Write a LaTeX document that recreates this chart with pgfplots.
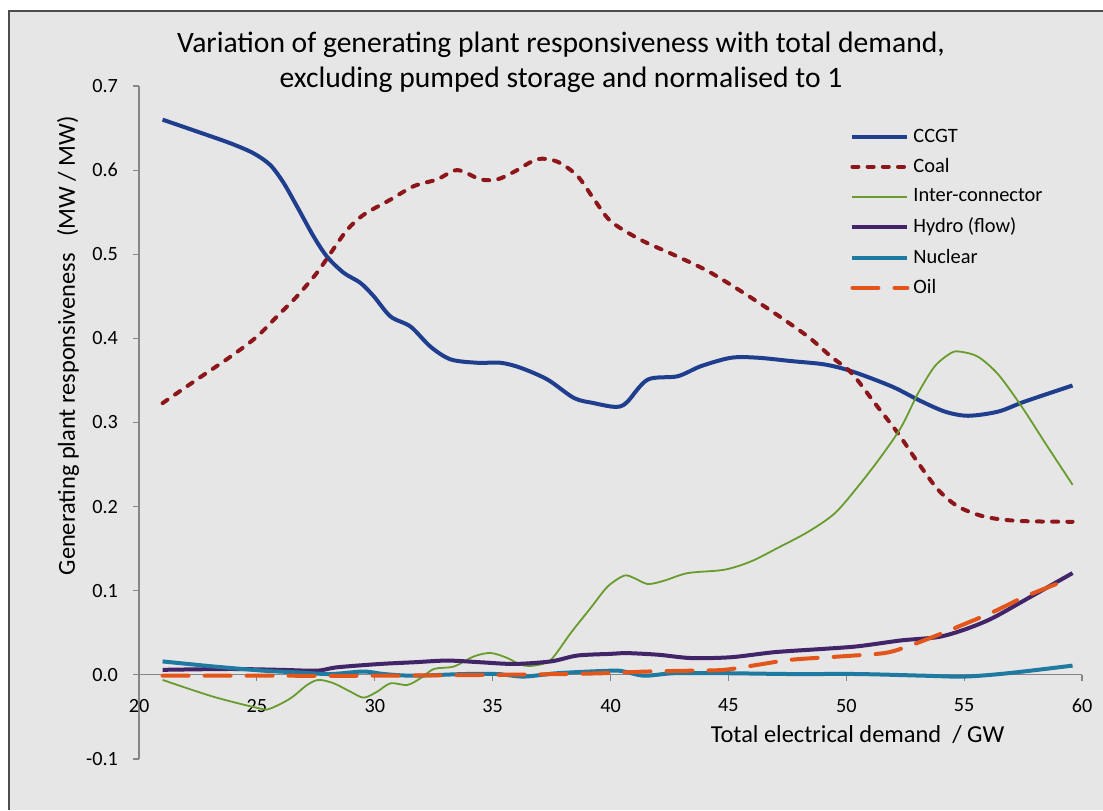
\documentclass[border=0pt]{standalone}
\usepackage{fontspec}
\setmainfont{Carlito}
\usepackage{pgfplots}
\pgfplotsset{compat=1.18}
\definecolor{bgc}{RGB}{230,230,230}
\definecolor{framec}{RGB}{77,77,77}
\definecolor{axc}{RGB}{134,134,134}
\definecolor{ccgt}{RGB}{32,62,142}
\definecolor{coal}{RGB}{140,22,26}
\definecolor{inter}{RGB}{104,156,44}
\definecolor{hydro}{RGB}{66,36,104}
\definecolor{nuclear}{RGB}{30,122,160}
\definecolor{oil}{RGB}{226,86,28}
\begin{document}
\begin{tikzpicture}
\useasboundingbox (-69.5pt,-25.5pt) rectangle (482pt,379.5pt);
\fill[white] (-69.5pt,-25.5pt) rectangle (482pt,379.5pt);
\fill[bgc] (-65.5pt,-25.5pt) rectangle (482pt,374pt);
\draw[framec,line width=1pt] (-65.1pt,-25.5pt) -- (-65.1pt,374pt) -- (482pt,374pt);
\node[align=center,font=\fontsize{14.8}{17.5}\selectfont] at (211pt,348.5pt)
  {Variation of generating plant responsiveness with total demand,\\excluding pumped storage and normalised to 1};
\begin{axis}[
  scale only axis,
  width=471.5pt, height=336.5pt,
  xmin=20, xmax=60, ymin=-0.1, ymax=0.7,
  axis x line=middle, axis y line=left,
  axis line style={-,draw=axc,line width=0.6pt},
  hide obscured x ticks=false,
  xtick={20,25,30,35,40,45,50,55,60}, ytick={-0.1,0,0.1,0.2,0.3,0.4,0.5,0.6,0.7},
  tick align=outside, major tick length=3pt,
  tick style={draw=axc,line width=0.6pt},
  minor tick num=0,
  /pgf/number format/assume math mode=true,
  yticklabel={\pgfmathprintnumber[fixed,fixed zerofill,precision=1]{\tick}},
  ticklabel style={font=\fontsize{10.1}{11}\selectfont},
  yticklabel style={xshift=-4pt},
  xticklabel style={yshift=-5.5pt},
  xlabel={Total electrical demand \ / GW},
  ylabel={Generating plant responsiveness \ \ (MW / MW)},
  label style={font=\fontsize{12.2}{14}\selectfont},
  xlabel style={at={(axis description cs:0.762,0.0357)},anchor=center},
  ylabel style={at={(axis description cs:-0.0753,0.614)},anchor=center},
  legend style={at={(axis description cs:0.754,0.943)},anchor=north west,draw=none,fill=none,
    font=\fontsize{10.2}{12}\selectfont,row sep=2.6pt,inner sep=0pt},
  legend cell align=left,
  legend image code/.code={\draw[#1] (0pt,0pt) -- (27.5pt,0pt);},
  every axis plot/.append style={smooth,tension=0.5},
]
\addplot[ccgt,line width=2pt] coordinates {(21,0.660) (22.45,0.646) (23.87,0.632) (24.86,0.620) (25.57,0.606) (26.13,0.585) (26.70,0.557) (27.41,0.521) (27.98,0.497) (28.68,0.478) (29.39,0.466) (29.96,0.450) (30.67,0.426) (31.52,0.414) (32.37,0.390) (33.22,0.375) (34.35,0.371) (35.34,0.371) (36.19,0.365) (37.33,0.351) (38.46,0.329) (39.3,0.323) (40.02,0.319) (40.4,0.319) (40.73,0.325) (41.58,0.351) (42.85,0.355) (43.84,0.367) (45.12,0.377) (46.25,0.377) (47.67,0.373) (49.08,0.369) (50.22,0.361) (51.92,0.343) (53.05,0.327) (54.18,0.313) (55.17,0.308) (56.45,0.313) (57.58,0.325) (59.6,0.344)};
\addlegendentry{CCGT}
\addplot[coal,line width=2pt,line cap=round,dash pattern=on 3pt off 4.6pt] coordinates {(21,0.323) (22.45,0.351) (23.87,0.378) (25,0.402) (25.85,0.426) (26.70,0.450) (27.55,0.478) (28.12,0.501) (28.83,0.529) (29.53,0.547) (30.67,0.565) (31.66,0.581) (32.65,0.589) (33.50,0.600) (34.49,0.589) (35.20,0.589) (35.91,0.598) (36.90,0.613) (37.75,0.610) (38.60,0.593) (39.31,0.565) (40.02,0.539) (41.29,0.517) (42.71,0.499) (44.13,0.480) (45.54,0.456) (46.96,0.430) (48.38,0.402) (49.37,0.378) (50.22,0.359) (51.21,0.323) (52.20,0.287) (53.05,0.252) (53.90,0.220) (54.75,0.200) (55.88,0.188) (57.30,0.183) (59.6,0.182)};
\addlegendentry{Coal}
\addplot[inter,line width=0.9pt] coordinates {(21,-0.006) (23.16,-0.026) (25.14,-0.040) (25.57,-0.040) (26.42,-0.028) (27.13,-0.012) (27.62,-0.006) (28.26,-0.010) (28.97,-0.020) (29.53,-0.027) (30.10,-0.020) (30.67,-0.010) (31.38,-0.012) (31.94,-0.004) (32.51,0.007) (33.36,0.010) (34.21,0.022) (34.92,0.026) (35.63,0.020) (36.19,0.012) (36.76,0.011) (37.47,0.018) (38.32,0.050) (39.17,0.080) (39.88,0.105) (40.58,0.118) (41.01,0.115) (41.58,0.108) (42.28,0.112) (43.28,0.121) (44.83,0.125) (45.97,0.135) (47.10,0.151) (48.38,0.170) (49.51,0.192) (50.50,0.224) (51.49,0.260) (52.34,0.295) (53.05,0.335) (53.76,0.367) (54.47,0.383) (54.89,0.384) (55.60,0.378) (56.45,0.357) (57.44,0.319) (58.43,0.276) (59.6,0.226)};
\addlegendentry{Inter-connector}
\addplot[hydro,line width=2pt] coordinates {(21,0.006) (23.87,0.007) (26,0.006) (27.55,0.005) (28.4,0.009) (30.24,0.013) (31.66,0.015) (33.08,0.017) (34.49,0.015) (35.91,0.013) (37.47,0.016) (38.60,0.023) (40.02,0.025) (40.58,0.026) (42.0,0.024) (43.42,0.020) (45.12,0.021) (46.96,0.027) (49.08,0.031) (50.50,0.034) (52.34,0.041) (53.90,0.045) (55.03,0.054) (56.17,0.067) (57.58,0.089) (59.6,0.121)};
\addlegendentry{Hydro (flow)}
\addplot[nuclear,line width=2pt] coordinates {(21,0.016) (23.16,0.010) (25.28,0.005) (26.70,0.003) (28.12,0.001) (29.53,0.004) (30.38,0.001) (31.66,-0.001) (33.78,0.001) (35.20,0.001) (36.33,-0.002) (37.75,0.002) (40.02,0.005) (40.58,0.004) (41.44,-0.001) (42.71,0.002) (44.83,0.002) (47.67,0.001) (50.50,0.001) (53.33,-0.001) (55.03,-0.002) (56.87,0.002) (59.6,0.011)};
\addlegendentry{Nuclear}
\addplot[oil,line width=2pt,line cap=round,dash pattern=on 13pt off 8pt] coordinates {(21,-0.001) (25,-0.001) (30,-0.001) (35,0.000) (38,0.001) (39.73,0.002) (41.58,0.004) (43.42,0.005) (44.83,0.006) (46.25,0.012) (47.67,0.018) (49.79,0.022) (51.63,0.026) (52.62,0.034) (53.76,0.046) (54.89,0.059) (56.17,0.074) (57.58,0.093) (59.0,0.109) (59.5,0.115)};
\addlegendentry{Oil}
\end{axis}
\end{tikzpicture}
\end{document}
